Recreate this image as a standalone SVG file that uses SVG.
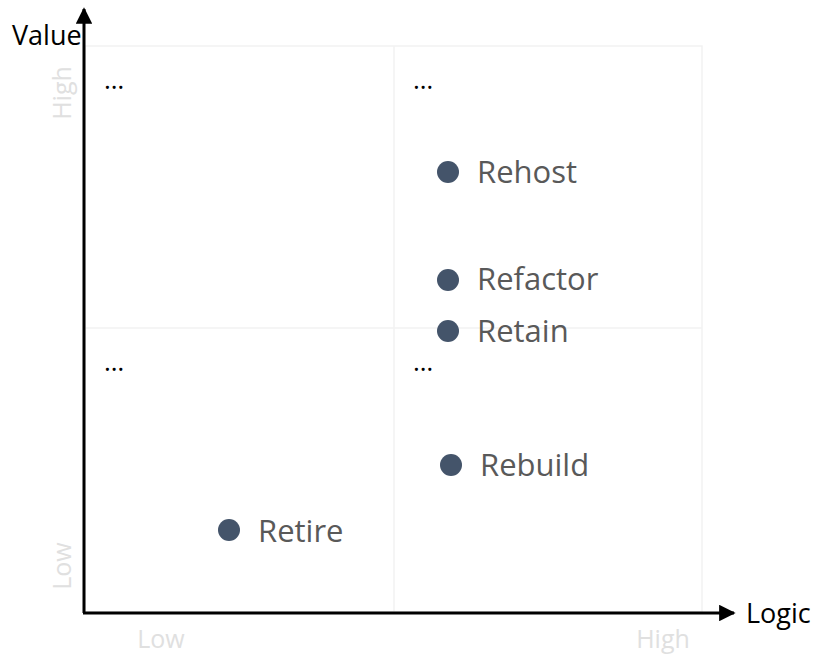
<svg xmlns="http://www.w3.org/2000/svg" width="817" height="657" viewBox="0 0 817 657">
<style>
.grid{stroke:#f2f2f2;stroke-width:1.5;fill:none}
.axis{stroke:#000;stroke-width:3;fill:none}
.ax{font-family:"Open Sans","Liberation Sans",sans-serif;font-size:27px;fill:#000}
.lvl{font-family:"Open Sans","Liberation Sans",sans-serif;font-size:25px;fill:#e0e0e0}
.dots{font-family:"Open Sans","Liberation Sans",sans-serif;font-size:26px;fill:#000}
.lbl{font-family:"Open Sans","Liberation Sans",sans-serif;font-size:31px;fill:#595959}
.pt{fill:#44546a}
</style>
<defs>
<marker id="arr" viewBox="0 0 10 10" refX="9" refY="5" markerWidth="5.5" markerHeight="5.5" orient="auto" markerUnits="strokeWidth">
<path d="M0,0 L10,5 L0,10 Z" fill="#000"/>
</marker>
</defs>
<g id="grid">
<rect class="grid" x="85" y="46" width="617" height="566"/>
<line class="grid" x1="394" y1="46" x2="394" y2="612"/>
<line class="grid" x1="85" y1="328" x2="702" y2="328"/>
</g>
<g id="connectors">
<line class="axis" x1="84" y1="613" x2="84" y2="9" marker-end="url(#arr)"/>
<line class="axis" x1="83" y1="613" x2="734" y2="613" marker-end="url(#arr)"/>
</g>
<g id="axis-labels">
<text class="ax" x="12" y="45">Value</text>
<text class="ax" x="746" y="623">Logic</text>
<text class="lvl" transform="translate(71,93) rotate(-90)" text-anchor="middle">High</text>
<text class="lvl" transform="translate(71,566) rotate(-90)" text-anchor="middle">Low</text>
<text class="lvl" x="161" y="648" text-anchor="middle">Low</text>
<text class="lvl" x="663" y="648" text-anchor="middle">High</text>
</g>
<g id="ellipses">
<text class="dots" x="104" y="89">…</text>
<text class="dots" x="413" y="89">…</text>
<text class="dots" x="104" y="371">…</text>
<text class="dots" x="413" y="371">…</text>
</g>
<g id="rehost"><circle class="pt" cx="448" cy="172" r="11"/><text class="lbl" x="477" y="183">Rehost</text></g>
<g id="refactor"><circle class="pt" cx="448" cy="280" r="11"/><text class="lbl" x="477" y="290">Refactor</text></g>
<g id="retain"><circle class="pt" cx="448" cy="331" r="11"/><text class="lbl" x="477" y="342">Retain</text></g>
<g id="rebuild"><circle class="pt" cx="451" cy="465" r="11"/><text class="lbl" x="480" y="476">Rebuild</text></g>
<g id="retire"><circle class="pt" cx="229" cy="530" r="11"/><text class="lbl" x="258" y="542">Retire</text></g>
</svg>
